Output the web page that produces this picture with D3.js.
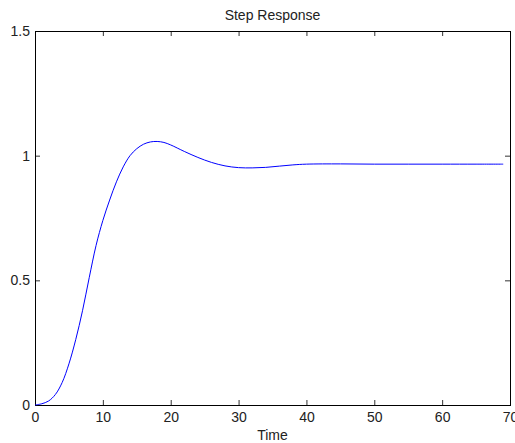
<!DOCTYPE html>
<html>
<head>
<meta charset="utf-8">
<script src="https://cdn.jsdelivr.net/npm/d3@7"></script>
<style>
	body { margin: 0; background: #fff; }
	svg { display: block; }
	.tick text { font-family: 'Liberation Sans', Arial, sans-serif; font-size: 14px; fill: #222; }
</style>
</head>
<body>
<div id="chart"></div>
<script>
// step response
const time = [0, 1, 2, 3, 4, 5, 6, 7, 8, 9, 10, 11, 12, 13, 14, 15, 16, 17, 18, 19, 20,
	22, 24, 26, 28, 30, 32, 34, 36, 38, 40, 45, 50, 55, 60, 65, 69];
const response = [0, 0.005, 0.016, 0.042, 0.09, 0.165, 0.262, 0.378, 0.512, 0.64, 0.74,
	0.822, 0.895, 0.955, 1.0, 1.028, 1.046, 1.055, 1.057, 1.053, 1.043,
	1.017, 0.993, 0.973, 0.959, 0.952, 0.951, 0.953, 0.958, 0.963, 0.966, 0.967, 0.966, 0.966, 0.966, 0.966, 0.966];

const xTicks = [0, 10, 20, 30, 40, 50, 60, 70];
const yTicks = [0, 0.5, 1, 1.5];

const W = 515, H = 443;
const margin = { top: 31, right: 5, bottom: 38, left: 35 };

const svg = d3.select('#chart').append('svg')
	.attr('width', W)
	.attr('height', H);

const x = d3.scaleLinear().domain([0, 70]).range([margin.left, W - margin.right]);
const y = d3.scaleLinear().domain([0, 1.5]).range([H - margin.bottom, margin.top]);

const fmt = d => String(d);

// bottom axis (ticks point inward)
const gx = svg.append('g')
	.attr('transform', `translate(0,${y(0)})`)
	.call(d3.axisBottom(x).tickValues(xTicks).tickFormat(fmt).tickSize(-5).tickSizeOuter(0).tickPadding(7));

// top axis, ticks only
const gxt = svg.append('g')
	.attr('transform', `translate(0,${y(1.5)})`)
	.call(d3.axisTop(x).tickValues(xTicks).tickFormat('').tickSize(-5).tickSizeOuter(0));

// left axis
const gy = svg.append('g')
	.attr('transform', `translate(${x(0)},0)`)
	.call(d3.axisLeft(y).tickValues(yTicks).tickFormat(fmt).tickSize(-5).tickSizeOuter(0).tickPadding(5));

// right axis, ticks only
const gyr = svg.append('g')
	.attr('transform', `translate(${x(70)},0)`)
	.call(d3.axisRight(y).tickValues(yTicks).tickFormat('').tickSize(-5).tickSizeOuter(0));

[gx, gxt, gy, gyr].forEach(g => {
	g.select('.domain').remove();
	g.selectAll('.tick line').attr('stroke', '#333');
});

// frame
svg.append('rect')
	.attr('x', x(0) + 0.5)
	.attr('y', y(1.5) + 0.5)
	.attr('width', x(70) - x(0))
	.attr('height', y(0) - y(1.5))
	.attr('fill', 'none')
	.attr('stroke', '#000')
	.attr('stroke-width', 1);

// the curve
const pts = time.map((t, i) => [t, response[i]]);
const line = d3.line()
	.x(d => x(d[0]))
	.y(d => y(d[1]))
	.curve(d3.curveCatmullRom.alpha(0.5));

svg.append('path')
	.datum(pts)
	.attr('d', line)
	.attr('fill', 'none')
	.attr('stroke', '#0000ff')
	.attr('stroke-width', 1);

// title
svg.append('text')
	.attr('x', (x(0) + x(70)) / 2)
	.attr('y', 20)
	.attr('text-anchor', 'middle')
	.style('font-family', "'Liberation Sans', Arial, sans-serif")
	.style('font-size', '14px')
	.style('fill', '#222')
	.text('Step Response');

// x label
svg.append('text')
	.attr('x', (x(0) + x(70)) / 2)
	.attr('y', 440)
	.attr('text-anchor', 'middle')
	.style('font-family', "'Liberation Sans', Arial, sans-serif")
	.style('font-size', '14px')
	.style('fill', '#222')
	.text('Time');
</script>
</body>
</html>
